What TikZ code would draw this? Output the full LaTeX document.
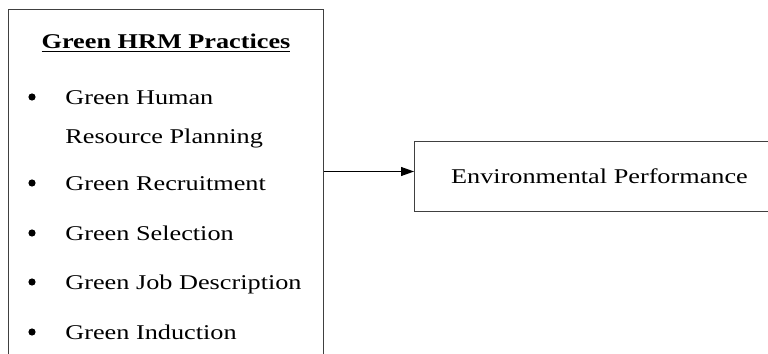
\documentclass[tikz,border=0pt]{standalone}
\usepackage{fontspec}
\setmainfont[FakeStretch=1.25]{Liberation Serif}
\usetikzlibrary{arrows.meta, positioning}

\begin{document}
\begin{tikzpicture}[
    x=0.5pt, y=-0.5pt,
    >={Triangle[length=6.5pt, width=4.5pt]},
    every node/.style={font=\fontsize{10.5pt}{12pt}\selectfont, inner sep=0pt},
    framebox/.style={rectangle, draw=black!75, line width=0.5pt, anchor=north west},
    bulletdot/.style={circle, fill=black, minimum size=3.6pt},
    itemtxt/.style={anchor=base west}
]
\useasboundingbox (0,0) rectangle (768,354);
\clip (0,0) rectangle (768,354);

% ---------------- practices (left box) ----------------
\node[framebox, minimum width=157.5pt, minimum height=185pt] (hrm) at (8,9) {};
\node[anchor=base, font=\fontsize{10.5pt}{12pt}\selectfont\bfseries] (title) at (166,48) {\underline{Green HRM Practices}};

\foreach \yy/\txt [count=\i] in {104/Green Human, 190/Green Recruitment, 240/Green Selection, 289/Green Job Description, 339/Green Induction} {
    \node[bulletdot] (dot\i) at (32,\yy-7) {};
    \node[itemtxt] (item\i) at (65,\yy) {\txt};
}
\node[itemtxt] (item1b) at (65,143) {Resource Planning};

% ---------------- outcome (right box) ----------------
\node[framebox, minimum width=185pt, minimum height=35pt] (envperf) at (414,141) {Environmental Performance};

\draw[->, line width=0.5pt] ([yshift=2.5pt]envperf.west -| hrm.east) -- ([yshift=2.5pt]envperf.west);

\end{tikzpicture}
\end{document}
